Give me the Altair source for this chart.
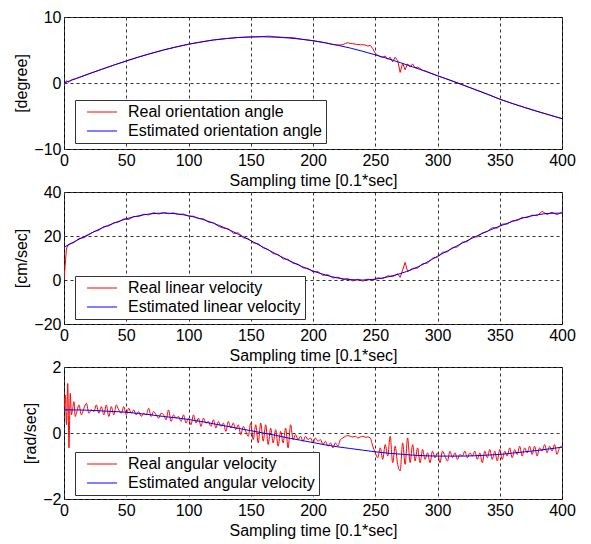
import altair as alt
import pandas as pd

FONT = "Liberation Sans"

x_ticks = [0, 50, 100, 150, 200, 250, 300, 350, 400]
x_title = "Sampling time [0.1*sec]"

# ---------- Panel 1: orientation angle [degree] ----------
orient_est_x = list(range(0, 401, 10))
orient_est = [0.0, 0.69, 1.38, 2.06, 2.71, 3.34, 3.93, 4.49, 5.00, 5.46, 5.87, 6.22, 6.51, 6.73,
              6.89, 6.98, 7.00, 6.95, 6.83, 6.65, 6.40, 6.08, 5.71, 5.29, 4.80, 4.27, 3.70, 3.09,
              2.45, 1.79, 1.10, 0.42, -0.28, -0.97, -1.70, -2.45, -3.10, -3.70, -4.30, -4.85, -5.40]
orient_real_x = [0, 2, 4, 6, 10, 20, 30, 40, 50, 60, 70, 80, 90, 100, 110, 120, 130, 140, 150, 160,
                 165, 170, 180, 185, 190, 200, 210, 215, 220, 224, 226, 228, 230, 232, 235, 238, 240,
                 242, 244, 246, 248, 250, 252, 254, 256, 258, 260, 262, 264, 266, 268, 270, 272, 274,
                 276, 278, 280, 282, 284, 286, 288, 290, 295, 300, 310, 320, 330, 340, 350, 360, 370,
                 380, 390, 400]
orient_real = [-0.2, 0.35, 0.1, 0.5, 0.7, 1.4, 2.05, 2.72, 3.33, 3.95, 4.48, 5.02, 5.45, 5.88, 6.2,
               6.53, 6.72, 6.9, 6.97, 7.05, 7.1, 6.98, 6.88, 6.85, 6.65, 6.42, 6.1, 5.85, 5.75, 5.8,
               6.0, 6.1, 6.0, 5.95, 5.85, 5.8, 5.8, 5.75, 5.6, 5.7, 5.2, 4.5, 4.2, 4.0, 3.9, 4.1, 3.6,
               3.9, 3.2, 3.9, 3.4, 1.6, 3.0, 2.0, 2.9, 2.4, 2.9, 2.3, 2.4, 2.2, 1.9, 1.85, 1.45, 1.1,
               0.45, -0.25, -1.0, -1.68, -2.45, -3.1, -3.72, -4.28, -4.85, -5.4]

# ---------- Panel 2: linear velocity [cm/sec] ----------
lin_est_x = list(range(0, 401, 10))
lin_est = [14.9, 17.9, 20.8, 23.5, 25.8, 27.8, 29.2, 30.1, 30.4, 30.1, 29.2, 27.8, 25.8, 23.5,
           20.8, 17.9, 14.9, 11.9, 9.0, 6.4, 4.1, 2.3, 0.9, 0.2, 0.0, 0.4, 1.4, 2.9, 4.9, 7.6, 10.8,
           13.8, 16.8, 19.6, 22.2, 24.5, 26.6, 28.4, 29.6, 30.3, 30.4]
lin_real_x = [0, 2, 4] + list(range(8, 269, 4)) + [270, 272, 274, 276] + list(range(280, 401, 4))
lin_real = [0.0, 14.5, 16.3,
            17.0, 18.9, 19.2, 20.6, 22.0, 22.6, 24.3, 24.6, 26.0, 26.4, 27.8, 27.5, 28.9, 28.8,
            29.9, 29.6, 30.6, 30.0, 30.7, 30.1, 30.5, 29.8, 30.0, 29.0, 29.0, 27.9, 27.8, 26.3,
            26.1, 24.4, 23.6, 23.3, 21.2, 21.4, 19.2, 18.8, 16.9, 16.5, 14.6, 13.9, 12.0, 11.6,
            9.6, 9.4, 7.6, 7.2, 5.5, 5.3, 3.7, 3.8, 2.1, 2.4, 0.9, 1.3, 0.2, 0.6, -0.4, 0.3, -0.5,
            0.4, 0.0, 1.0, 0.6, 1.9, 1.5, 2.8,
            1.2, 4.5, 8.0, 3.8,
            5.3, 5.4, 7.4, 7.7, 9.9, 10.4, 12.6, 12.8, 14.8, 15.0, 17.2, 17.4, 19.6, 19.6, 21.4,
            22.0, 23.8, 23.6, 25.4, 25.4, 26.9, 27.0, 28.5, 28.3, 29.5, 29.2, 31.2, 29.8, 30.8,
            29.7, 30.9]

# ---------- Panel 3: angular velocity [rad/sec] ----------
ang_est_x = list(range(0, 401, 10))
ang_est = [0.70, 0.70, 0.69, 0.67, 0.65, 0.63, 0.59, 0.55, 0.50, 0.46, 0.41, 0.35, 0.28, 0.21,
           0.14, 0.07, 0.00, -0.07, -0.15, -0.22, -0.29, -0.36, -0.42, -0.47, -0.52, -0.57, -0.61,
           -0.64, -0.67, -0.69, -0.70, -0.70, -0.70, -0.69, -0.67, -0.65, -0.61, -0.57, -0.53,
           -0.48, -0.43]
ang_real_x = list(range(0, 11)) + list(range(12, 401, 2))
ang_real = [0.70, 1.15, 0.25, 1.50, -0.45, 1.20, 0.55, 0.75, 0.95, 0.50, 0.60,
            0.85, 0.55, 0.75, 0.90, 0.60, 0.70, 0.65, 0.85, 0.60, 0.80,
            0.55, 0.85, 0.50, 0.80, 0.55, 0.85, 0.70, 0.60, 0.80, 0.55,
            0.75, 0.60, 0.70, 0.55, 0.65, 0.50, 0.60, 0.55, 0.75, 0.50,
            0.65, 0.55, 0.45, 0.60, 0.55, 0.40, 0.70, 0.35, 0.55, 0.45,
            0.50, 0.35, 0.55, 0.30, 0.45, 0.25, 0.55, 0.30, 0.45, 0.20,
            0.45, 0.30, 0.35, 0.20, 0.40, 0.15, 0.35, 0.20, 0.30, 0.05,
            0.35, 0.15, 0.30, 0.10, 0.25, -0.05, 0.20, 0.05, -0.10, 0.30,
            -0.20, 0.25, -0.30, 0.30, -0.25, 0.25, -0.35, 0.15, -0.30, 0.10,
            -0.40, 0.05, -0.30, 0.15, -0.45, 0.25, -0.20, -0.05, -0.20, -0.10,
            -0.25, -0.10, -0.20, -0.15, -0.30, -0.15, -0.25, -0.20, -0.35, -0.25,
            -0.40, -0.30, -0.45, -0.30, -0.40, -0.20, -0.15, -0.10, -0.08, -0.10,
            -0.12, -0.10, -0.15, -0.12, -0.10, -0.13, -0.12, -0.15, -0.40, -0.60,
            -0.75, -0.45, -0.80, -0.35, -0.70, -0.10, -0.90, -0.40, -0.95, -1.15,
            -0.30, -0.95, -0.15, -0.90, -0.35, -0.85, -0.45, -0.90, -0.50, -0.80,
            -0.60, -0.90, -0.55, -0.75, -0.60, -0.90, -0.55, -0.70, -0.85, -0.55,
            -0.75, -0.60, -0.80, -0.65, -0.70, -0.55, -0.75, -0.60, -0.70, -0.55,
            -0.80, -0.60, -0.90, -0.55, -0.75, -0.50, -0.80, -0.55, -0.85, -0.50,
            -0.80, -0.55, -0.70, -0.45, -0.75, -0.50, -0.65, -0.40, -0.70, -0.45,
            -0.60, -0.40, -0.65, -0.40, -0.70, -0.45, -0.55, -0.35, -0.60, -0.40,
            -0.55, -0.35, -0.65, -0.45, -0.40]

PLOT_W = 498
PLOT_H = 132


def panel(est_x, est_y, real_x, real_y, ydomain, yticks, ytitle, real_label, est_label,
          legend_y, interp="linear"):
    df_real = pd.DataFrame({"t": real_x, "v": real_y, "series": real_label})
    df_est = pd.DataFrame({"t": est_x, "v": est_y, "series": est_label})
    x = alt.X("t:Q", scale=alt.Scale(domain=[0, 400], nice=False, zero=False),
              axis=alt.Axis(values=x_ticks, title=x_title, labelFlush=False))
    y = alt.Y("v:Q", scale=alt.Scale(domain=ydomain, nice=False, zero=False),
              axis=alt.Axis(values=yticks, title=ytitle))
    cscale = alt.Scale(domain=[real_label, est_label], range=["#ff0000", "#0000ff"])
    legend = alt.Legend(orient="none", legendX=11, legendY=legend_y, title=None)
    color = alt.Color("series:N", scale=cscale, legend=legend)
    red = alt.Chart(df_real).mark_line(strokeWidth=1, clip=True, interpolate=interp).encode(
        x=x, y=y, color=color)
    blue = alt.Chart(df_est).mark_line(strokeWidth=1, clip=True, interpolate="monotone").encode(
        x=x, y=y, color=color)
    return alt.layer(red, blue).properties(width=PLOT_W, height=PLOT_H)


p1 = panel(orient_est_x, orient_est, orient_real_x, orient_real, [-10, 10], [-10, 0, 10],
           "[degree]", "Real orientation angle", "Estimated orientation angle", 83)
p2 = panel(lin_est_x, lin_est, lin_real_x, lin_real, [-20, 40], [-20, 0, 20, 40],
           "[cm/sec]", "Real linear velocity", "Estimated linear velocity", 84)
p3 = panel(ang_est_x, ang_est, ang_real_x, ang_real, [-2, 2], [-2, 0, 2],
           "[rad/sec]", "Real angular velocity", "Estimated angular velocity", 85,
           interp="monotone")

chart = alt.vconcat(p1, p2, p3, spacing=43, bounds="flush").resolve_scale(
    color="independent"
).properties(
    padding={"left": 5, "right": 5, "top": 0, "bottom": 0}
).configure(
    font=FONT
).configure_view(
    stroke="#000", strokeWidth=1
).configure_axis(
    labelFont=FONT, labelFontSize=16, labelColor="#000",
    titleFont=FONT, titleFontSize=16, titleFontWeight="normal", titleColor="#000",
    domain=False, ticks=False, labelPadding=3, titlePadding=4,
    gridColor="#333", gridDash=[3, 3], gridWidth=1, gridOpacity=1
).configure_legend(
    strokeColor="#333", fillColor="#fff", padding=4, cornerRadius=0,
    symbolType="M0,0H7.5", symbolSize=64, symbolStrokeWidth=1, symbolOffset=0,
    labelFont=FONT, labelFontSize=16, labelColor="#000", labelOffset=33, rowPadding=3,
    labelLimit=400
)

chart.save("out.html", embed_options={"renderer": "svg", "actions": False})
